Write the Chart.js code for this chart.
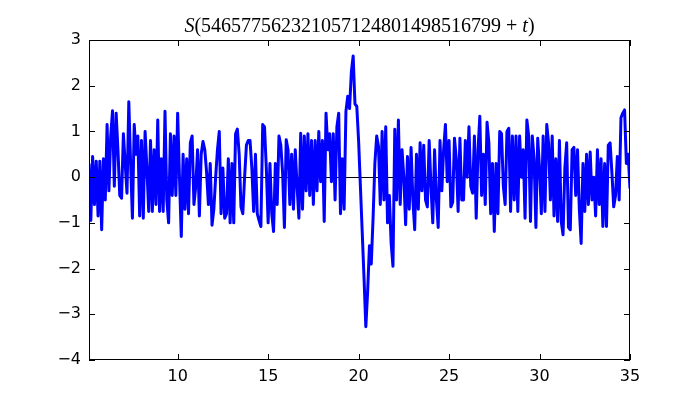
<!DOCTYPE html>
<html>
<head>
<meta charset="utf-8">
<script src="https://cdn.jsdelivr.net/npm/chart.js@4"></script>
<style>
  html, body { margin: 0; padding: 0; background: #ffffff; }
  #wrap { width: 700px; height: 400px; }
</style>
</head>
<body>
<div id="wrap"><canvas id="zChart" width="700" height="400"></canvas></div>
<script>
// t grid: 5.1 .. 35.0, step 0.1
const tStart = 5.1;
const tStep = 0.1;

// values, one per grid step
const sValues = [
  0.3, -0.95, 0.45, -0.6, 0.35, -0.85, 0.35, -1.15, 0.4,
  -0.5, 1.15, -0.3, 0.9, 1.45, -0.2, 1.4, 0.6, -0.4, -0.46,
  0.95, 0.3, -0.35, 1.65, 0.3, -0.9, 1.15, 0.5, 0.9, -0.85,
  0.8, -0.9, 1.0, 0.2, -0.75, 0.8, -0.75, 0.6, -0.6, 1.25,
  -0.75, 0.4, -0.75, 1.44, -0.5, -1.0, 0.95, -0.4, 0.9, -0.4,
  1.4, 0.0, -1.3, 0.5, -0.7, 0.4, -0.8, 0.75, 0.9, -0.6,
  -0.2, 0.6, -0.85, 0.5, 0.78, 0.6, 0.1, -0.6, 0.3, -1.05,
  -0.7, 0.0, 0.6, 1.0, -0.8, 0.2, -0.9, -0.8, 0.4, -1.0,
  0.3, -1.0, 0.95, 1.05, 0.5, -0.65, -0.8, 0.0, 0.7, 0.8,
  0.8, 0.2, -0.75, 0.5, -0.8, -0.95, -1.08, 1.15, 1.1, 0.2,
  -1.0, 0.3, -0.8, -1.19, 0.3, -0.6, 0.9, 0.7, 0.1, -1.1,
  0.82, 0.6, -0.6, 0.5, -0.7, 0.6, -0.2, -0.9, 0.96, -0.7,
  0.9, -0.3, 0.95, -0.4, 0.8, -0.6, 0.8, -0.3, 1.0, -0.1,
  0.8, -0.97, 1.4, 0.6, 0.95, -0.1, 0.95, -0.5, 1.1, 1.4,
  -0.8, 0.4, -0.7, 1.44, 1.77, 1.5, 2.3, 2.65, 1.6, 1.55,
  0.8, -0.2, -1.2, -2.2, -3.27, -2.5, -1.5, -1.9, -0.9, 0.3,
  0.9, 0.67, -0.6, 1.0, -0.5, 1.1, -1.0, -0.4, -1.45, -1.95,
  1.05, -0.5, 1.25, -0.6, 0.6, 0.0, -1.04, 0.45, -0.7, 0.65,
  -0.5, -1.15, 0.5, -0.7, 0.75, -0.3, 0.7, -0.5, -0.65, 0.8,
  -0.2, -1.0, 0.6, -0.5, -1.1, 0.8, -0.3, 0.6, 1.15, -0.1,
  0.8, -0.65, -0.55, 0.85, 0.4, -0.75, 0.85, -0.5, -0.5, 0.8,
  0.0, 1.1, -0.2, -0.35, 0.9, -0.9, 0.6, 1.33, -0.4, 0.5,
  -0.6, 1.2, 0.75, -0.8, 0.3, -1.19, 0.3, -0.8, 1.0, 0.95,
  -0.2, -0.6, 1.0, 1.07, -0.75, 0.9, -0.5, 0.9, -0.75, 0.9,
  0.0, 0.6, -0.9, 1.25, 0.9, -0.97, 0.9, 0.4, -1.1, 0.85,
  0.2, -0.8, 0.9, -0.75, 1.15, 0.75, -0.5, 0.9, -0.85, 0.4,
  -0.97, 0.8, -0.97, -1.26, 0.2, 0.75, -1.1, -1.15, 0.6, 0.65,
  -0.4, 0.6, -0.7, -1.45, 0.3, -0.75, 0.5, -0.6, 0.55, -0.5,
  0.0, -0.85, 0.6, -0.6, 0.4, -1.08, 0.3, -1.08, 0.7, 0.75,
  0.1, -0.65, -0.4, 0.45, -0.5, 1.3, 1.4, 1.47, 0.3, 0.5,
  -0.25
];

const xTicks = [10, 15, 20, 25, 30, 35];
const yTicks = [-4, -3, -2, -1, 0, 1, 2, 3];
const xMin = 5.1, xMax = 35;
const yMin = -4, yMax = 3;
const hLineValue = 0;

const titleParts = [
  { text: 'S', italic: true },
  { text: '(546577562321057124801498516799 ', italic: false },
  { text: '+ ', italic: false },
  { text: 't', italic: true },
  { text: ')', italic: false },
];

const linePoints = sValues.map((v, i) => ({ x: +(tStart + i * tStep).toFixed(2), y: v }));

const minusLabel = (v) => (v < 0 ? '\u2212' + Math.abs(v) : String(v));

const titlePlugin = {
  id: 'mathTitle',
  afterDraw(chart) {
    const ctx = chart.ctx;
    const area = chart.chartArea;
    const size = 20;
    ctx.save();
    ctx.fillStyle = '#000';
    ctx.textBaseline = 'alphabetic';
    let total = 0;
    titleParts.forEach((p) => {
      ctx.font = (p.italic ? 'italic ' : '') + size + 'px "Liberation Serif", "DejaVu Serif", serif';
      total += ctx.measureText(p.text).width;
    });
    let x = (area.left + area.right) / 2 - total / 2;
    titleParts.forEach((p) => {
      ctx.font = (p.italic ? 'italic ' : '') + size + 'px "Liberation Serif", "DejaVu Serif", serif';
      ctx.fillText(p.text, x, 32);
      x += ctx.measureText(p.text).width;
    });
    ctx.restore();
  }
};

// black horizontal line at zero, under the data
const hLinePlugin = {
  id: 'hLine',
  beforeDatasetsDraw(chart) {
    const ctx = chart.ctx;
    const a = chart.chartArea;
    const py = Math.round(chart.scales.y.getPixelForValue(hLineValue)) + 0.5;
    ctx.save();
    ctx.strokeStyle = '#000';
    ctx.lineWidth = 1;
    ctx.beginPath();
    ctx.moveTo(a.left, py);
    ctx.lineTo(a.right, py);
    ctx.stroke();
    ctx.restore();
  }
};

// box frame with inward ticks on all four sides (classic look)
const framePlugin = {
  id: 'frame',
  afterDraw(chart) {
    const ctx = chart.ctx;
    const a = chart.chartArea;
    const xs = chart.scales.x;
    const ys = chart.scales.y;
    const len = 6;
    ctx.save();
    ctx.strokeStyle = '#000';
    ctx.lineWidth = 1;
    ctx.strokeRect(Math.round(a.left) + 0.5, Math.round(a.top) + 0.5,
      Math.round(a.right - a.left) - 1, Math.round(a.bottom - a.top) - 1);
    ctx.beginPath();
    xTicks.forEach((t) => {
      const px = Math.round(xs.getPixelForValue(t)) + 0.5;
      ctx.moveTo(px, a.bottom);
      ctx.lineTo(px, a.bottom - len);
      ctx.moveTo(px, a.top);
      ctx.lineTo(px, a.top + len);
    });
    yTicks.forEach((t) => {
      const py = Math.round(ys.getPixelForValue(t)) + 0.5;
      ctx.moveTo(a.left, py);
      ctx.lineTo(a.left + len, py);
      ctx.moveTo(a.right, py);
      ctx.lineTo(a.right - len, py);
    });
    ctx.stroke();
    ctx.restore();
  }
};

const ctx = document.getElementById('zChart').getContext('2d');
new Chart(ctx, {
  type: 'line',
  data: {
    datasets: [
      {
        label: 'S',
        data: linePoints,
        borderColor: '#0000ff',
        borderWidth: 3,
        borderJoinStyle: 'round',
        pointRadius: 0,
        tension: 0,
        fill: false,
      },
    ],
  },
  options: {
    responsive: false,
    animation: false,
    layout: { padding: { left: 0, right: 70, top: 40, bottom: 0 } },
    scales: {
      x: {
        type: 'linear',
        min: xMin,
        max: xMax,
        afterBuildTicks: (scale) => { scale.ticks = xTicks.map((v) => ({ value: v })); },
        afterFit: (scale) => { scale.height = 40; },
        grid: { display: false, drawTicks: false },
        border: { display: false },
        ticks: {
          padding: 7,
          color: '#000',
          font: { family: '"DejaVu Sans"', size: 16 },
          maxRotation: 0,
          callback: (v) => minusLabel(v),
        },
      },
      y: {
        min: yMin,
        max: yMax,
        afterBuildTicks: (scale) => { scale.ticks = yTicks.map((v) => ({ value: v })); },
        afterFit: (scale) => { scale.width = 89; },
        grid: { display: false, drawTicks: false },
        border: { display: false },
        ticks: {
          padding: 8,
          color: '#000',
          font: { family: '"DejaVu Sans"', size: 16 },
          callback: (v) => minusLabel(v),
        },
      },
    },
    plugins: {
      legend: { display: false },
      tooltip: { enabled: false },
      title: { display: false },
    },
  },
  plugins: [titlePlugin, hLinePlugin, framePlugin],
});
</script>
</body>
</html>
